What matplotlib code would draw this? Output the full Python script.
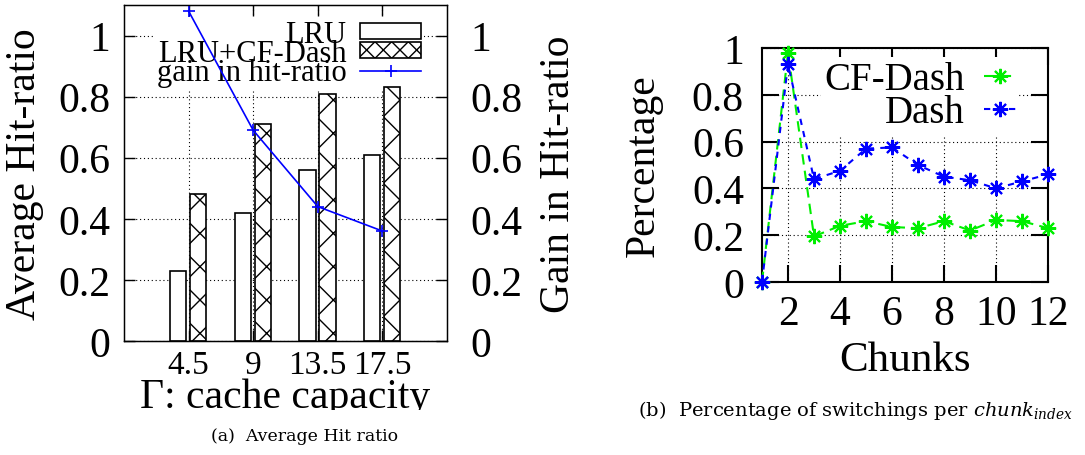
import numpy as np
import matplotlib
matplotlib.use("Agg")
import matplotlib.pyplot as plt
from matplotlib.lines import Line2D
from matplotlib.patches import Patch, Rectangle

plt.rcParams['font.family'] = ['Liberation Serif', 'DejaVu Serif']
plt.rcParams['mathtext.fontset'] = 'dejavuserif'
plt.rcParams['hatch.linewidth'] = 1.0

# (a) Average hit ratio per cache capacity
capacities = ['4.5', '9', '13.5', '17.5']
hit_lru = [0.23, 0.42, 0.56, 0.61]
hit_lru_cfdash = [0.48, 0.71, 0.81, 0.83]
gain_hit = [1.08, 0.69, 0.44, 0.36]

# (b) Percentage of switchings per chunk index
chunks = [1, 2, 3, 4, 5, 6, 7, 8, 9, 10, 11, 12]
switch_cfdash = [0.0, 0.98, 0.195, 0.24, 0.26, 0.235, 0.23, 0.26, 0.22, 0.265, 0.26, 0.23]
switch_dash = [0.0, 0.93, 0.44, 0.475, 0.57, 0.575, 0.50, 0.45, 0.435, 0.40, 0.43, 0.46]

W, H = 1085, 456
fig = plt.figure(figsize=(W / 100, H / 100), dpi=100)


def axes_px(left, top, right, bottom):
    # Achsen in Pixelkoordinaten anlegen
    return fig.add_axes([left / W, 1 - bottom / H, (right - left) / W, (bottom - top) / H])


def fmt(v, pos=None):
    return f"{v:g}"


grid_kw = dict(color='black', linestyle=(0, (1, 2.5)), linewidth=0.8)
asterisk = (8, 2, 0)
caption_font = ['DejaVu Serif']

# ---------------- (a) ----------------
ax = axes_px(124, 6, 447, 342)
x = np.arange(len(capacities))
bw = 0.25
ax.bar(x - 0.16, hit_lru, bw, color='white', edgecolor='black', linewidth=1.2, zorder=2)
ax.bar(x + 0.15, hit_lru_cfdash, bw, color='white', edgecolor='black', linewidth=1.2,
       hatch='x', zorder=2)
ax.set_xlim(-1, 4)
ax.set_ylim(0, 1.1)
ax.set_xticks(x)
ax.set_xticklabels(capacities)
ax.set_yticks([0, 0.2, 0.4, 0.6, 0.8, 1.0])
ax.yaxis.set_major_formatter(fmt)
ax.grid(True, **grid_kw)
ax.set_axisbelow(True)
ax.tick_params(direction='in', length=8, width=1, top=True, right=True, labelsize=30)
ax.tick_params(axis='y', pad=10)
ax.tick_params(axis='x', pad=6, labelsize=24)
for s in ax.spines.values():
    s.set_linewidth(1.0)
ax.set_ylabel('Average Hit-ratio', fontsize=30, va='center')
ax.yaxis.set_label_coords(-0.306, 0.5)
ax.text(0.5, -0.196, 'Γ: cache capacity', transform=ax.transAxes, fontsize=30,
        ha='center', va='baseline')

ax2 = ax.twinx()
ax2.plot(x, gain_hit, color='blue', linewidth=1.2, marker='+', markersize=9,
         markeredgewidth=1.2, clip_on=False)
ax2.set_ylim(0, 1.1)
ax2.set_yticks([0, 0.2, 0.4, 0.6, 0.8, 1.0])
ax2.yaxis.set_major_formatter(fmt)
ax2.tick_params(direction='in', length=8, width=1, labelsize=30, pad=17)
ax2.set_ylabel('Gain in Hit-ratio', fontsize=30, va='center')
ax2.yaxis.set_label_coords(1.347, 0.5)

handles = [
    Patch(facecolor='white', edgecolor='black', linewidth=1.2, label='LRU'),
    Patch(facecolor='white', edgecolor='black', linewidth=1.2, hatch='xx', label='LRU+CF-Dash'),
    Line2D([], [], color='blue', linewidth=1.2, marker='+', markersize=9,
           markeredgewidth=1.2, label='gain in hit-ratio'),
]
leg = ax.legend(handles=handles, loc='upper right', bbox_to_anchor=(0.93, 0.965),
                fontsize=22, markerfirst=False, frameon=True, framealpha=1,
                facecolor='white', edgecolor='none', fancybox=False, borderpad=0.1,
                borderaxespad=0, handlelength=2.0, handleheight=0.4, handletextpad=0.45,
                labelspacing=-0.32)
# Legende unter den Balken, aber über dem Gitter
leg.set_zorder(1.5)

# Unteren Teil der x-Beschriftung abschneiden wie im Original
fig.patches.append(Rectangle((110 / W, 0), 350 / W, (H - 411) / H, transform=fig.transFigure,
                             facecolor='white', edgecolor='none', zorder=5))
fig.text(305 / W, 1 - 437 / H, '(a)  Average Hit ratio', fontsize=12.5, ha='center',
         va='center', zorder=10, family=caption_font)

# ---------------- (b) ----------------
bx = axes_px(762, 49, 1048, 283)
bx.plot(chunks, switch_cfdash, color='#00ee00', linestyle=(0, (5, 3)), linewidth=1.5,
        marker=asterisk, markersize=11, markeredgewidth=1.5, label='CF-Dash', clip_on=False,
        zorder=3)
bx.plot(chunks, switch_dash, color='blue', linestyle=(0, (3, 3)), linewidth=1.5,
        marker=asterisk, markersize=11, markeredgewidth=1.5, label='Dash', clip_on=False,
        zorder=3)
bx.set_xlim(1, 12)
bx.set_ylim(0, 1)
bx.set_xticks([2, 4, 6, 8, 10, 12])
bx.set_yticks([0, 0.2, 0.4, 0.6, 0.8, 1.0])
bx.yaxis.set_major_formatter(fmt)
bx.grid(True, **grid_kw)
bx.tick_params(direction='in', length=12, width=1.5, top=True, right=True, labelsize=30)
bx.tick_params(axis='y', pad=13)
bx.tick_params(axis='x', pad=9)
for s in bx.spines.values():
    s.set_linewidth(1.5)
bx.set_ylabel('Percentage', fontsize=30, va='center')
bx.yaxis.set_label_coords(-0.416, 0.5)
bx.text(0.5, -0.376, 'Chunks', transform=bx.transAxes, fontsize=31, ha='center',
        va='baseline')
bx.legend(loc='upper right', bbox_to_anchor=(0.9, 0.96), fontsize=28, markerfirst=False,
          frameon=True, framealpha=1, facecolor='white', edgecolor='none', fancybox=False,
          borderpad=0.1, borderaxespad=0, handlelength=0.8, handletextpad=0.5,
          labelspacing=-0.1)

fig.text(856 / W, 1 - 411 / H, '(b)  Percentage of switchings per $chunk_{index}$',
         fontsize=14, ha='center', va='center', family=caption_font)

fig.savefig('out.png', dpi=100)
